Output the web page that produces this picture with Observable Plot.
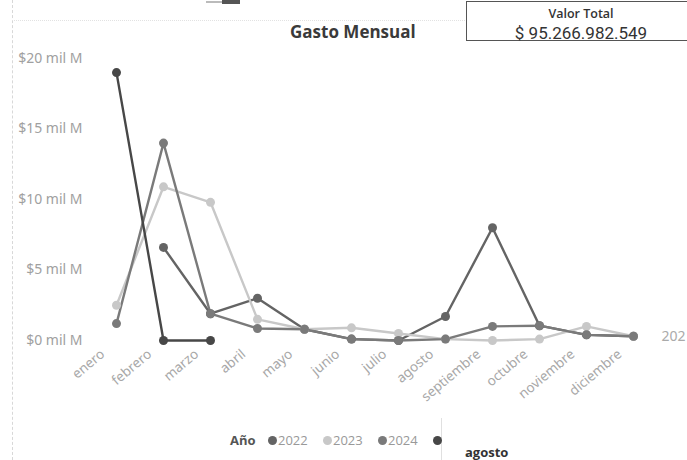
<!DOCTYPE html>
<html>
<head>
<meta charset="utf-8">
<script src="https://cdn.jsdelivr.net/npm/d3@7"></script>
<script src="https://cdn.jsdelivr.net/npm/@observablehq/plot@0.6"></script>
<style>
  html, body { margin: 0; padding: 0; background: #fff; }
  body { width: 687px; height: 460px; position: relative; overflow: hidden; font-family: "Open Sans", "Noto Sans", sans-serif; }
  #frame { position: absolute; left: 12px; top: 0; width: 1px; height: 460px; border-left: 1px dashed #d8d8d8; }
  #topline { position: absolute; left: 12px; top: 20px; width: 453px; height: 1px; border-top: 1px dotted #e2e2e2; }
  #icon { position: absolute; left: 222px; top: 0; width: 18px; height: 4px; background: #555; }
  #icon2 { position: absolute; left: 206px; top: 1px; width: 16px; height: 2px; background: #bbb; }
  #header { position: relative; height: 40px; }
  #title { position: absolute; left: 290px; top: 21px; font-size: 17px; line-height: 22px; font-weight: 700; color: #3a3a3a; white-space: nowrap; z-index: 2; }
  #card { position: absolute; left: 466px; top: 1px; width: 230px; height: 38px; border: 1px solid #555; background: #fff; z-index: 2; }
  #card .lbl { position: absolute; left: 0; width: 228px; top: 4px; line-height: 16px; text-align: center; font-size: 12.5px; font-weight: 600; color: #333; }
  #card .val { position: absolute; left: 0; width: 228px; top: 21px; line-height: 20px; text-align: center; font-size: 17px; font-weight: 400; color: #333; font-family: Roboto, "Open Sans", sans-serif; }
  #chart { position: relative; }
  #legend { position: absolute; left: 230px; top: 432px; height: 16px; font-size: 13px; line-height: 16px; color: #999; white-space: nowrap; }
  #legend .t { position: absolute; top: 0; }
  #legend .d { position: absolute; top: 4px; width: 9px; height: 9px; border-radius: 50%; }
  #legend .h { font-weight: 700; color: #555; }
  #slicer { position: absolute; left: 441px; top: 418px; width: 1px; height: 42px; background: #e0e0e0; }
  #agosto { position: absolute; left: 465px; top: 445px; font-size: 13px; line-height: 15px; font-weight: 700; color: #333; }
</style>
</head>
<body>
<div id="frame"></div>
<div id="topline"></div>
<div id="icon2"></div>
<div id="icon"></div>
<div id="header">
  <div id="title">Gasto Mensual</div>
  <div id="card"><div class="lbl">Valor Total</div><div class="val" id="total"></div></div>
</div>
<div id="chart"></div>
<div id="slicer"></div>
<div id="legend"></div>
<div id="agosto">agosto</div>
<script>
// Data (values in "mil M")
const months = ["enero","febrero","marzo","abril","mayo","junio","julio","agosto","septiembre","octubre","noviembre","diciembre"];
const years = ["2022","2023","2024","2025"];
const v2022 = [null, 6.6, 1.9, 3.0, 0.8, 0.1, 0.0, 1.7, 8.0, 1.05, 0.4, 0.3];
const v2023 = [2.5, 10.9, 9.8, 1.5, 0.8, 0.9, 0.5, 0.1, 0.0, 0.1, 1.0, 0.3];
const v2024 = [1.2, 14.0, 1.9, 0.85, 0.8, 0.1, 0.0, 0.1, 1.0, 1.05, 0.4, 0.3];
const v2025 = [19.0, 0.0, 0.0];
const yTicks = [0, 5, 10, 15, 20];
const totalLabel = "$ 95.266.982.549";
const endLabel = "202";
const colors = ["#646464", "#c8c8c8", "#7a7a7a", "#474747"];

document.getElementById("total").textContent = totalLabel;

const series = {"2022": v2022, "2023": v2023, "2024": v2024, "2025": v2025};
const rows = [];
for (const y of years) {
  series[y].forEach((v, i) => { if (v != null) rows.push({year: y, month: months[i], value: v}); });
}
const endRow = rows.filter(d => d.year === "2022" && d.month === "diciembre");

const chart = Plot.plot({
  width: 687,
  height: 380,
  marginLeft: 88,
  marginRight: 51,
  marginTop: 18,
  marginBottom: 80,
  style: {background: "transparent", overflow: "hidden"},
  x: {type: "point", domain: months, range: [113, 636], padding: 0, axis: null},
  y: {domain: [0, 20], axis: null},
  color: {domain: years, range: colors},
  marks: [
    Plot.ruleY(yTicks, {x1: 88, x2: 660, stroke: "#d6d6d6", strokeDasharray: "1,3", strokeWidth: 1}),
    Plot.axisY({ticks: yTicks, tickFormat: d => `$${d} mil M`, tickSize: 0, tickPadding: 6, label: null, fontSize: 14, fill: "#a0a0a0"}),
    Plot.text(months, {x: d => d, frameAnchor: "bottom", dy: 15, dx: -11, rotate: -40, textAnchor: "end", fill: "#a8a8a8", fontSize: 13.5}),
    Plot.line(rows, {x: "month", y: "value", z: "year", stroke: "year", strokeWidth: 2.4}),
    Plot.dot(rows, {x: "month", y: "value", fill: "year", r: 4.5}),
    Plot.text(endRow, {x: "month", y: "value", text: () => endLabel, dx: 28, textAnchor: "start", fill: "#aaa", fontSize: 14})
  ]
});
document.getElementById("chart").appendChild(chart);

// Legend
const legend = document.getElementById("legend");
let html = '<span class="t h" style="left:0">Año</span>';
years.forEach((y, i) => {
  const dx = 38 + i * 55;
  html += `<span class="d" style="left:${dx}px;background:${colors[i]}"></span>`;
  if (i < 3) html += `<span class="t" style="left:${dx + 10}px">${y}</span>`;
});
legend.innerHTML = html;
</script>
</body>
</html>
